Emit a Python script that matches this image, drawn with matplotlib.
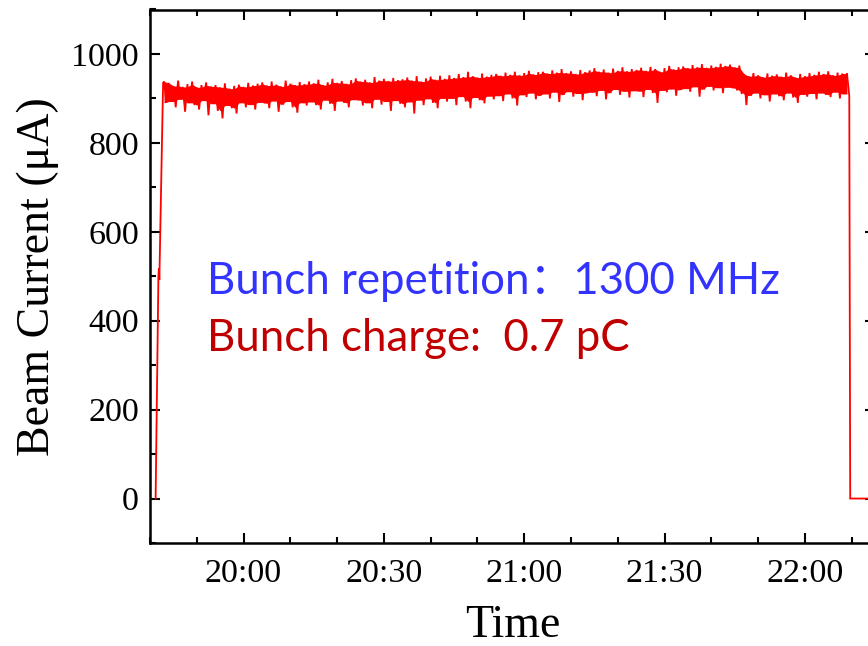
import numpy as np
import pandas as pd
import matplotlib
matplotlib.use("Agg")
import matplotlib.pyplot as plt
import matplotlib.dates as mdates

# minutes relative to 20:00
start = pd.Timestamp("2020-01-01 20:00")

# turn-on ramp
ramp_min = [-18.8, -18.2, -18.1, -18.0, -17.2]
ramp_val = [0, 500, 518, 492, 935]

# beam current band, one pair (upper, lower) per minute from 19:43 to 22:09
band_min = list(range(-17, 130))
band_hi = [938,
           935, 928, 940, 926, 932, 938, 925, 930, 936, 927,
           930, 925, 934, 922, 928, 931, 926, 935, 929, 933,
           936, 929, 938, 931, 927, 940, 933, 930, 937, 932,
           938, 934, 942, 930, 936, 944, 935, 939, 933, 941,
           945, 938, 942, 936, 948, 940, 944, 939, 946, 941,
           943, 947, 940, 950, 938, 945, 949, 942, 951, 944,
           952, 946, 955, 948, 960, 950, 947, 956, 949, 953,
           955, 951, 958, 953, 960, 952, 957, 962, 954, 959,
           960, 956, 963, 958, 966, 957, 961, 955, 964, 959,
           963, 968, 960, 965, 958, 967, 962, 970, 961, 966,
           964, 969, 962, 971, 966, 960, 968, 973, 965, 970,
           972, 968, 975, 970, 977, 969, 974, 971, 978, 973,
           976, 970, 974, 955, 950, 957, 952, 948, 956, 951,
           954, 949, 958, 952, 947, 955, 950, 957, 953, 960,
           955, 961, 952, 958, 956, 957]
band_lo = [890,
           893, 880, 898, 870, 890, 885, 875, 895, 862, 888,
           872, 855, 884, 878, 866, 890, 880, 886, 875, 891,
           889, 878, 894, 870, 886, 893, 880, 868, 890, 884,
           892, 885, 875, 896, 888, 872, 894, 890, 880, 897,
           896, 884, 890, 878, 898, 886, 893, 872, 895, 888,
           880, 892, 866, 896, 885, 899, 890, 878, 900, 893,
           900, 885, 904, 893, 878, 902, 896, 889, 905, 898,
           906, 894, 910, 900, 884, 908, 903, 912, 898, 906,
           910, 900, 914, 892, 908, 915, 904, 911, 896, 912,
           914, 905, 918, 898, 912, 920, 908, 916, 902, 917,
           916, 903, 920, 912, 890, 918, 914, 921, 906, 919,
           922, 915, 926, 904, 920, 927, 918, 924, 912, 925,
           923, 918, 910, 885, 906, 912, 900, 908, 893, 910,
           905, 896, 912, 902, 890, 909, 904, 911, 898, 912,
           908, 903, 914, 900, 910, 906]

# beam off
tail_min = [129.7, 140.0]
tail_val = [0, 0]

band_t = np.column_stack([band_min, np.add(band_min, 0.5)]).ravel()
band_v = np.column_stack([band_hi, band_lo]).ravel()

minutes = np.concatenate([ramp_min, band_t, tail_min])
values = np.concatenate([ramp_val, band_v, tail_val])
times = start + pd.to_timedelta(minutes, unit="min")
band_times = start + pd.to_timedelta(band_min, unit="min")

# solid core of the band: the narrower envelope of neighbouring readings
core_hi = pd.Series(band_hi).rolling(2, min_periods=1).min()
core_lo = pd.Series(band_lo).rolling(2, min_periods=1).max()

plt.rcParams["font.family"] = ["Liberation Serif"]

fig = plt.figure(figsize=(8.68, 6.46), dpi=100)
ax = fig.add_axes([150 / 868, 103 / 646, 725 / 868, 533.5 / 646])

ax.fill_between(band_times, core_hi, core_lo, color="#ff0000", lw=0)
ax.plot(times, values, color="#ff0000", lw=1.3, solid_joinstyle="miter")

ax.set_xlim(start + pd.Timedelta(minutes=-20), start + pd.Timedelta(minutes=135))
ax.set_ylim(-100, 1100)
ax.set_yticks(range(0, 1001, 200))
ax.set_yticks(range(-100, 1101, 100), minor=True)
ax.xaxis.set_major_locator(mdates.MinuteLocator(byminute=[0, 30]))
ax.xaxis.set_minor_locator(mdates.MinuteLocator(byminute=range(0, 60, 10)))
ax.xaxis.set_major_formatter(mdates.DateFormatter("%H:%M"))

ax.tick_params(which="both", direction="in", top=True, right=True, labelsize=24.5, width=1.5)
ax.tick_params(axis="x", pad=11)
ax.tick_params(axis="y", pad=8)
ax.tick_params(which="major", length=7.5)
ax.tick_params(which="minor", length=4.5)
for s in ax.spines.values():
    s.set_linewidth(1.8)

ax.set_xlabel("Time", fontsize=33)
ax.set_ylabel("Beam Current (\u03bcA)", fontsize=33)
ax.xaxis.set_label_coords(0.5, -0.115)
ax.yaxis.set_label_coords(-0.125, 0.5)

fam = ["Lato", "Noto Sans CJK SC"]
fig.text(207 / 868, 1 - 281 / 646, "Bunch repetition\uff1a1300 MHz", color="#3333ff",
         fontsize=31.5, family=fam, va="center", ha="left")
fig.text(207 / 868, 1 - 338 / 646, "Bunch charge:  0.7 pC", color="#c00000",
         fontsize=31.5, family=fam, va="center", ha="left")

fig.savefig("out.png", dpi=100)
